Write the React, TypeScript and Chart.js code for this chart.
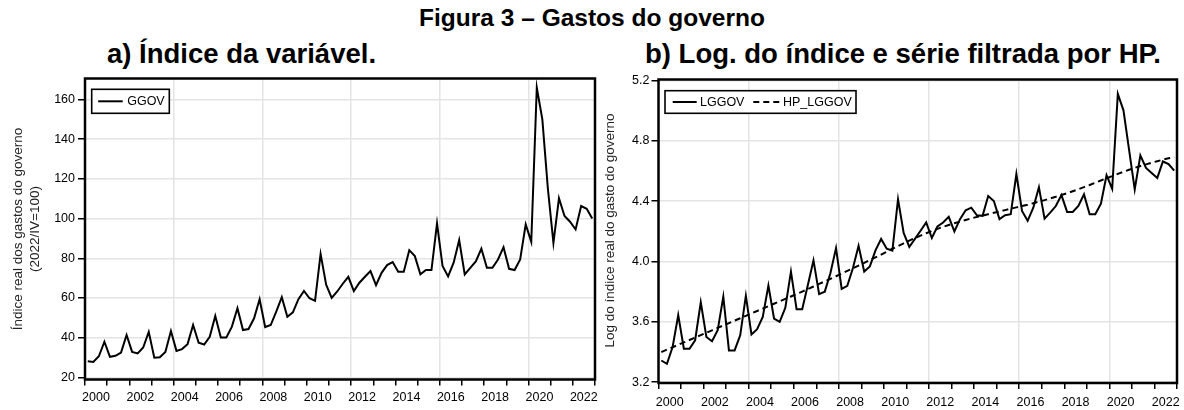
import React, { useEffect, useRef } from 'react';
import { Chart, registerables } from 'chart.js';

Chart.register(...registerables);

// ---------------- DATA ----------------
const START_YEAR = 2000;
const END_YEAR = 2023;

// Índice real dos gastos do governo (2022/IV = 100), quarterly 2000Q1..2022Q4
const ggov: number[] = [
  28.2, 27.8, 30.7, 38.0,
  30.4, 30.9, 32.6, 41.4,
  32.9, 32.1, 35.1, 43.0,
  30.0, 30.2, 32.9, 43.4,
  33.4, 34.3, 36.8, 46.4,
  37.5, 36.6, 40.5, 51.0,
  40.2, 40.2, 45.6, 54.9,
  43.9, 44.4, 49.8, 59.4,
  45.4, 46.4, 53.2, 60.4,
  50.6, 52.8, 59.4, 63.6,
  59.9, 58.6, 82.2, 66.7,
  60.1, 63.3, 67.2, 70.7,
  63.5, 67.7, 70.7, 73.6,
  66.5, 72.7, 76.6, 78.1,
  73.2, 73.2, 84.1, 81.1,
  71.9, 74.1, 74.1, 97.6,
  76.1, 70.9, 77.8, 89.2,
  71.9, 75.2, 78.4, 84.8,
  75.2, 75.2, 79.4, 85.6,
  74.7, 74.1, 79.4, 97.1,
  88.3, 165.9, 149.9, 115.0,
  87.8, 110.2, 101.3, 98.4,
  94.5, 106.3, 104.9, 100.0,
];

// Log do índice (LGGOV)
const lggov: number[] = [
  3.344, 3.322, 3.433, 3.644,
  3.422, 3.422, 3.478, 3.729,
  3.500, 3.471, 3.544, 3.767,
  3.411, 3.411, 3.511, 3.773,
  3.516, 3.551, 3.633, 3.840,
  3.622, 3.600, 3.693, 3.933,
  3.684, 3.684, 3.844, 4.007,
  3.784, 3.800, 3.922, 4.089,
  3.818, 3.838, 3.956, 4.104,
  3.933, 3.967, 4.073, 4.149,
  4.084, 4.071, 4.411, 4.189,
  4.096, 4.149, 4.203, 4.258,
  4.155, 4.232, 4.258, 4.295,
  4.199, 4.280, 4.339, 4.356,
  4.306, 4.302, 4.433, 4.400,
  4.280, 4.306, 4.313, 4.579,
  4.334, 4.269, 4.356, 4.492,
  4.284, 4.323, 4.367, 4.439,
  4.328, 4.328, 4.367, 4.444,
  4.313, 4.313, 4.383, 4.571,
  4.481, 5.110, 5.001, 4.739,
  4.477, 4.702, 4.619, 4.586,
  4.553, 4.662, 4.645, 4.601,
];

// Série filtrada por HP (HP_LGGOV)
const hpLggov: number[] = [
  3.400, 3.416, 3.432, 3.448,
  3.464, 3.480, 3.496, 3.512,
  3.528, 3.544, 3.560, 3.576,
  3.592, 3.608, 3.624, 3.640,
  3.656, 3.672, 3.688, 3.704,
  3.720, 3.736, 3.752, 3.768,
  3.784, 3.800, 3.817, 3.834,
  3.851, 3.868, 3.885, 3.902,
  3.919, 3.937, 3.955, 3.973,
  3.991, 4.009, 4.027, 4.045,
  4.065, 4.084, 4.102, 4.120,
  4.138, 4.155, 4.171, 4.187,
  4.202, 4.216, 4.229, 4.241,
  4.253, 4.264, 4.275, 4.285,
  4.295, 4.304, 4.313, 4.322,
  4.331, 4.340, 4.349, 4.358,
  4.367, 4.376, 4.386, 4.396,
  4.406, 4.417, 4.428, 4.440,
  4.452, 4.465, 4.478, 4.492,
  4.506, 4.521, 4.536, 4.551,
  4.565, 4.580, 4.594, 4.607,
  4.620, 4.632, 4.643, 4.654,
  4.664, 4.674, 4.683, 4.692,
];

const yTicksLeft: number[] = [20, 40, 60, 80, 100, 120, 140, 160];
const yTicksRight: number[] = [3.2, 3.6, 4.0, 4.4, 4.8, 5.2];
const xTickYears: number[] = [];
for (let y = START_YEAR; y <= END_YEAR; y++) xTickYears.push(y);

// time coordinate of each quarterly observation (mid-quarter)
const timeOf = (i: number) => START_YEAR + (i + 0.5) / 4;
const toPoints = (arr: number[]) => arr.map((v, i) => ({ x: timeOf(i), y: v }));

const FONT = "'Liberation Sans', Arial, Helvetica, sans-serif";
const GRID = '#e4e4e4';

// ---------------- PLUGINS ----------------
const framePlugin = {
  id: 'frame',
  afterDraw(chart: any) {
    const { ctx, chartArea: a } = chart;
    ctx.save();
    ctx.strokeStyle = '#000';
    ctx.lineWidth = 2.5;
    ctx.strokeRect(a.left, a.top, a.right - a.left, a.bottom - a.top);
    ctx.restore();
  },
};

const boxLegendPlugin = {
  id: 'boxLegend',
  afterDatasetsDraw(chart: any, _args: any, opts: any) {
    if (!opts || !opts.items) return;
    const { ctx, chartArea: a } = chart;
    const x0 = a.left + opts.x;
    const y0 = a.top + opts.y;
    ctx.save();
    ctx.fillStyle = '#fff';
    ctx.fillRect(x0, y0, opts.w, opts.h);
    ctx.strokeStyle = '#000';
    ctx.lineWidth = 1.6;
    ctx.strokeRect(x0, y0, opts.w, opts.h);
    const ym = y0 + opts.h / 2;
    ctx.font = `12.5px ${FONT}`;
    ctx.textBaseline = 'middle';
    ctx.textAlign = 'left';
    for (const it of opts.items) {
      ctx.beginPath();
      ctx.setLineDash(it.dash || []);
      ctx.lineWidth = 2;
      ctx.moveTo(x0 + it.l0, ym);
      ctx.lineTo(x0 + it.l1, ym);
      ctx.stroke();
      ctx.setLineDash([]);
      ctx.fillStyle = '#000';
      ctx.fillText(it.label, x0 + it.tx, ym + 0.5);
    }
    ctx.restore();
  },
};

const yTitlePlugin = {
  id: 'yTitle',
  afterDraw(chart: any, _args: any, opts: any) {
    if (!opts || !opts.lines) return;
    const { ctx } = chart;
    ctx.save();
    ctx.fillStyle = '#222';
    ctx.font = `${opts.size}px ${FONT}`;
    ctx.textAlign = 'center';
    ctx.textBaseline = 'middle';
    opts.lines.forEach((ln: any) => {
      ctx.save();
      ctx.translate(ln.x, opts.cy);
      ctx.rotate(-Math.PI / 2);
      ctx.fillText(ln.text, 0, 0);
      ctx.restore();
    });
    ctx.restore();
  },
};

// ---------------- CONFIG BUILDER ----------------
function buildConfig(p: any) {
  return {
    type: 'line',
    data: { datasets: p.datasets },
    options: {
      responsive: false,
      animation: false,
      events: [],
      layout: { padding: { left: 0, right: p.padRight, top: p.padTop, bottom: 0 } },
      elements: { point: { radius: 0 } },
      plugins: {
        legend: { display: false },
        tooltip: { enabled: false },
        boxLegend: p.legend,
        yTitle: p.yTitle,
      },
      scales: {
        x: {
          type: 'linear',
          min: START_YEAR,
          max: END_YEAR,
          afterBuildTicks: (s: any) => {
            s.ticks = xTickYears.map((v) => ({ value: v }));
          },
          afterFit: (s: any) => {
            s.height = p.xHeight;
          },
          border: { display: false },
          grid: {
            color: (c: any) => (c.tick && c.tick.value % 4 === 0 ? GRID : 'rgba(0,0,0,0)'),
            lineWidth: 1.5,
            tickColor: '#000',
            tickWidth: 1.5,
            tickLength: 6,
            drawTicks: true,
          },
          ticks: {
            autoSkip: false,
            maxRotation: 0,
            minRotation: 0,
            padding: p.xPad,
            labelOffset: p.labelOffset,
            color: '#000',
            font: { family: FONT, size: 12.5 },
            callback: (v: any) => (v % 2 === 0 && v < END_YEAR ? String(v) : ''),
          },
        },
        y: {
          type: 'linear',
          min: p.yMin,
          max: p.yMax,
          afterBuildTicks: (s: any) => {
            s.ticks = p.yTicks.map((v: number) => ({ value: v }));
          },
          afterFit: (s: any) => {
            s.width = p.yWidth;
          },
          border: { display: false },
          grid: {
            color: GRID,
            lineWidth: 1.5,
            tickColor: '#000',
            tickWidth: 1.5,
            tickLength: 7,
          },
          ticks: {
            padding: p.yPad,
            color: '#000',
            font: { family: FONT, size: 12.5 },
            callback: p.yFmt,
          },
        },
      },
    },
    plugins: [framePlugin, boxLegendPlugin, yTitlePlugin],
  };
}

function ChartCanvas({ config, left, top, width, height }: any) {
  const ref = useRef<HTMLCanvasElement>(null);
  useEffect(() => {
    const chart = new Chart(ref.current as HTMLCanvasElement, config);
    return () => chart.destroy();
  }, []);
  return (
    <canvas
      ref={ref}
      width={width}
      height={height}
      style={{ position: 'absolute', left, top, width, height }}
    />
  );
}

export default function App() {
  const lineStyle = { borderColor: '#000', borderWidth: 2, fill: false, tension: 0, pointRadius: 0 };

  const leftConfig = buildConfig({
    datasets: [{ label: 'GGOV', data: toPoints(ggov), ...lineStyle }],
    padRight: 5,
    padTop: 18.5,
    xHeight: 30.5,
    yWidth: 85,
    xPad: 5,
    yPad: 3,
    labelOffset: 11,
    yMin: 19,
    yMax: 170.5,
    yTicks: yTicksLeft,
    yFmt: (v: any) => String(v),
    legend: {
      x: 6.7, y: 10.8, w: 77.6, h: 24,
      items: [{ label: 'GGOV', l0: 6.5, l1: 31, tx: 35.5 }],
    },
    yTitle: {
      size: 13.5,
      cy: 169,
      lines: [
        { text: 'Índice real dos gastos do governo', x: 18 },
        { text: '(2022/IV=100)', x: 35 },
      ],
    },
  });

  const rightConfig = buildConfig({
    datasets: [
      { label: 'LGGOV', data: toPoints(lggov), ...lineStyle },
      { label: 'HP_LGGOV', data: toPoints(hpLggov), ...lineStyle, borderDash: [6, 4] },
    ],
    padRight: 7,
    padTop: 19.5,
    xHeight: 27,
    yWidth: 58.5,
    xPad: 6,
    yPad: 2,
    labelOffset: 11.25,
    yMin: 3.195,
    yMax: 5.205,
    yTicks: yTicksRight,
    yFmt: (v: any) => Number(v).toFixed(1),
    legend: {
      x: 6.5, y: 11.2, w: 191, h: 22.6,
      items: [
        { label: 'LGGOV', l0: 7.7, l1: 31.7, tx: 35 },
        { label: 'HP_LGGOV', l0: 88.3, l1: 115, dash: [6, 4], tx: 118 },
      ],
    },
    yTitle: {
      size: 13.5,
      cy: 170.5,
      lines: [{ text: 'Log do índice real do gasto do governo', x: 10 }],
    },
  });

  const head: React.CSSProperties = {
    position: 'absolute',
    fontFamily: FONT,
    fontWeight: 'bold',
    color: '#000',
    whiteSpace: 'nowrap',
    lineHeight: 1,
  };

  return (
    <div style={{ position: 'absolute', left: 0, top: 0, width: 1184, height: 410, background: '#fff', overflow: 'hidden' }}>
      <div style={{ ...head, left: 0, width: 1184, textAlign: 'center', top: 6, fontSize: 24.5 }}>
        Figura 3 – Gastos do governo
      </div>
      <div style={{ ...head, left: 107, top: 40, fontSize: 27.5 }}>a) Índice da variável.</div>
      <div style={{ ...head, left: 645, top: 40, fontSize: 27.5 }}>b) Log. do índice e série filtrada por HP.</div>
      <ChartCanvas config={leftConfig} left={0} top={60} width={600} height={350} />
      <ChartCanvas config={rightConfig} left={600} top={60} width={584} height={350} />
    </div>
  );
}
